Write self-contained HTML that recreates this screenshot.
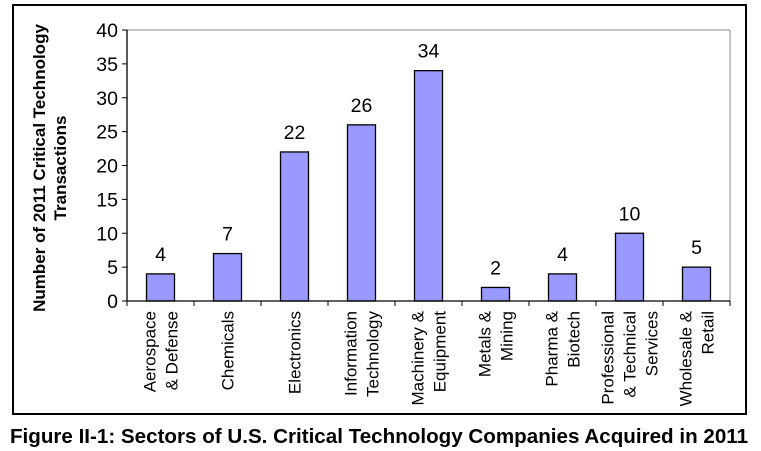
<!DOCTYPE html>
<html><head><meta charset="utf-8"><style>
body{margin:0;background:#fff;}
svg{display:block;font-family:"Liberation Sans",Arial,sans-serif;}
</style></head><body>
<svg id="chart" width="761" height="451" viewBox="0 0 761 451" xmlns="http://www.w3.org/2000/svg">
<rect x="13" y="5" width="733" height="409" fill="#fff" stroke="#000" stroke-width="2"/>
<g id="plot"></g>
<text transform="translate(52,168) rotate(-90)" text-anchor="middle" font-size="17" font-weight="bold"><tspan x="0" y="-7">Number of 2011 Critical Technology</tspan><tspan x="0" y="14">Transactions</tspan></text>
<text x="379" y="443" text-anchor="middle" font-size="20.6" font-weight="bold">Figure II-1: Sectors of U.S. Critical Technology Companies Acquired in 2011</text>
</svg>
<script>
const categories=[["Aerospace","& Defense"],["Chemicals"],["Electronics"],["Information","Technology"],["Machinery &","Equipment"],["Metals &","Mining"],["Pharma &","Biotech"],["Professional","& Technical","Services"],["Wholesale &","Retail"]];
const values=[4,7,22,26,34,2,4,10,5];
const yTicks=[0,5,10,15,20,25,30,35,40];
const NS="http://www.w3.org/2000/svg";
const g=document.getElementById('plot');
const X0=127,X1=730,Y0=301,Y1=30,YMAX=40;
const step=(X1-X0)/categories.length;
const y=v=>Y0-(v/YMAX)*(Y0-Y1);
const xc=i=>X0+step*(i+0.5);
function mk(tag,attrs){const e=document.createElementNS(NS,tag);for(const k in attrs)e.setAttribute(k,attrs[k]);g.appendChild(e);return e;}
let e;
e=mk('line',{x1:X0,y1:Y1,x2:X1,y2:Y1,stroke:'#888','stroke-width':1});


e=mk('line',{x1:X1,y1:Y1,x2:X1,y2:Y0,stroke:'#888','stroke-width':1});


yTicks.forEach(t=>{
  e=mk('line',{x1:X0-5,y1:y(t),x2:X0,y2:y(t),stroke:'#000'});
  
  
  e=mk('text',{x:X0-9,y:y(t)+7,'text-anchor':'end','font-size':'19.5'});
  e.textContent=t;
  
  
});
values.forEach((v,i)=>{
  const w=28;
  e=mk('rect',{x:xc(i)-w/2,y:y(v),width:w,height:Y0-y(v),fill:'#9999ff',stroke:'#000','stroke-width':1.3});
  
  
  e=mk('text',{x:xc(i),y:y(v)-13,'text-anchor':'middle','font-size':'19.5'});
  e.textContent=v;
  
  
});
for(let i=0;i<=categories.length;i++){
  e=mk('line',{x1:X0+step*i,y1:Y0,x2:X0+step*i,y2:Y0+5,stroke:'#000'});
  
  
}
e=mk('line',{x1:X0,y1:Y1,x2:X0,y2:Y0,stroke:'#000','stroke-width':1.3});


e=mk('line',{x1:X0,y1:Y0,x2:X1,y2:Y0,stroke:'#000','stroke-width':1.3});


categories.forEach((lines,i)=>{
  const t=mk('text',{transform:`translate(${xc(i)},311) rotate(-90)`,'text-anchor':'end','font-size':'17'});
  
  
  lines.forEach((ln,j)=>{
    const s=document.createElementNS(NS,'tspan');
    s.setAttribute('x',0);
    s.setAttribute('y',(j-(lines.length-1)/2)*22+6);
    s.textContent=ln;t.appendChild(s);
  });
});
</script>
</body></html>
